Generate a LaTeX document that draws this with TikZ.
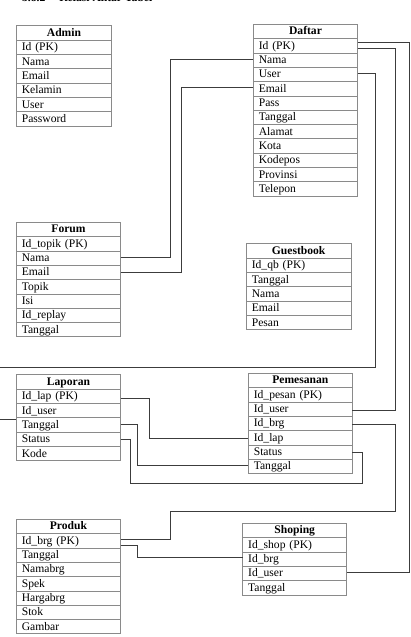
\documentclass[tikz,border=0pt]{standalone}
\usepackage{fontspec}
\setmainfont{Liberation Serif}
\usetikzlibrary{calc}
\definecolor{tblgray}{HTML}{8A8A8A}
\definecolor{lnk}{HTML}{3C3C3C}
\tikzset{
  tbl/.style={draw=tblgray, line width=0.9pt, rectangle, inner xsep=5.5pt, inner ysep=0pt,
    outer sep=0pt, minimum height=14.33pt, text height=9.5pt, text depth=2.5pt,
    font=\fontsize{11.6}{13}\selectfont, anchor=north west},
  hdr/.style={tbl, font=\fontsize{11.6}{13}\selectfont\bfseries, align=center},
  fld/.style={tbl, align=left},
  link/.style={draw=lnk, line width=0.8pt},
}
% #1 name, #2 x, #3 y, #4 width, #5 header, #6 rows
\newcommand\ertab[6]{%
  \pgfmathsetmacro\tw{#4-11}%
  \node[hdr, text width=\tw pt] (#1-0) at (#2,#3) {#5};
  \foreach \t [count=\i, remember=\i as \j (initially 0)] in {#6} {
    \node[fld, text width=\tw pt] (#1-\i) at (#1-\j.south west) {\t};
  }
}
\begin{document}
\begin{tikzpicture}[x=1pt,y=-1pt]
\useasboundingbox (0,0) rectangle (411,637);
\node[anchor=base west, inner sep=0pt, font=\fontsize{11.6}{13}\selectfont\bfseries] (head) at (22,1.8) {3.8.2\hspace{1.2em}Relasi Antar Tabel};

\ertab{admin}{16.3}{25.7}{95.4}{Admin}{Id (PK),Nama,Email,Kelamin,User,Password}
\ertab{daftar}{253.3}{24.3}{104.4}{Daftar}{Id (PK),Nama,User,Email,Pass,Tanggal,Alamat,Kota,Kodepos,Provinsi,Telepon}
\ertab{forum}{16.3}{222.3}{104.4}{Forum}{Id\_topik (PK),Nama,Email,Topik,Isi,Id\_replay,Tanggal}
\ertab{guest}{246.3}{243.7}{104.7}{Guestbook}{Id\_qb (PK),Tanggal,Nama,Email,Pesan}
\ertab{laporan}{16.3}{374.7}{104.4}{Laporan}{Id\_lap (PK),Id\_user,Tanggal,Status,Kode}
\ertab{pemesanan}{248.3}{373.3}{104}{Pemesanan}{Id\_pesan (PK),Id\_user,Id\_brg,Id\_lap,Status,Tanggal}
\ertab{produk}{16.3}{519.3}{104.4}{Produk}{Id\_brg (PK),Tanggal,Namabrg,Spek,Hargabrg,Stok,Gambar}
\ertab{shoping}{242.7}{523.3}{104}{Shoping}{Id\_shop (PK),Id\_brg,Id\_user,Tanggal}

% Forum -> Daftar
\draw[link] ([yshift=0.5pt]forum-2.east) -- ++(50,0) |- ([yshift=0.8pt]daftar-2.west);
\draw[link] ([yshift=0.4pt]forum-3.east) -- ++(61,0) |- ([yshift=1pt]daftar-4.west);
% Daftar User -> Laporan
\draw[link] ([yshift=1.2pt]daftar-3.east) -- ++(17.6,0) |- (-5,367) |- ([yshift=5pt]laporan-3.west);
% Daftar Id -> Shoping Id_user
\draw[link] ([yshift=3.5pt]daftar-1.east) -- ++(51.6,0) |- ([yshift=1.2pt]shoping-3.east);
% Daftar Id -> Pemesanan Id_user
\draw[link] ([yshift=-2.5pt]daftar-1.east) -- ++(38,0) |- ([yshift=-0.9pt]pemesanan-2.east);
% Pemesanan Id_brg -> Produk Id_brg
\draw[link] ([yshift=-1.2pt]pemesanan-3.east) -- ++(43.4,0) |- (170.3,511.7) |- ([yshift=1.1pt]produk-1.east);
% Produk Id_brg -> Shoping Id_brg
\draw[link] ([yshift=-5pt]produk-1.east) -- ++(17,0) |- ([yshift=2.2pt]shoping-2.west);
% Laporan -> Pemesanan
\draw[link] ([yshift=-1.8pt]laporan-1.east) -- ++(28.3,0) |- ([yshift=-0.9pt]pemesanan-4.west);
\draw[link] ([yshift=0.9pt]laporan-3.east) -- ++(17,0) |- ([yshift=0.8pt]pemesanan-6.west);
\draw[link] ([yshift=0.2pt]laporan-4.east) -- ++(9.3,0) |- (362.7,483) |- (pemesanan-5.east);
\end{tikzpicture}
\end{document}
